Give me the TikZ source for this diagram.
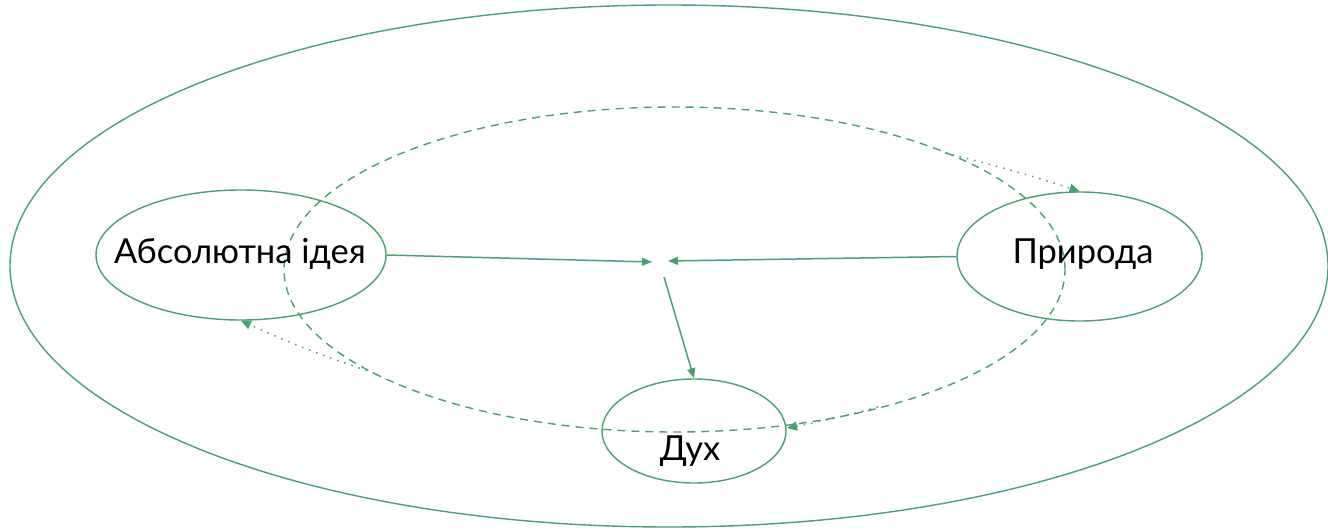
\documentclass[tikz,border=0pt]{standalone}
\usepackage{fontspec}
\setmainfont{Lato}
\usetikzlibrary{shapes.geometric,arrows.meta}
\definecolor{gr}{RGB}{74,160,112}
\tikzset{
  oval/.style={ellipse, draw=gr, line width=1.4pt, inner sep=0pt},
  lbl/.style={font=\fontsize{34.5}{38}\selectfont},
  arr/.style={draw=gr, line width=1.5pt, -{Triangle[length=10pt,width=8pt]}},
  dotarr/.style={draw=gr, line width=1.5pt, dash pattern=on 1.5pt off 6pt, -{Triangle[length=10pt,width=9pt]}},
  dashov/.style={ellipse, draw=gr, line width=1.4pt, dash pattern=on 8pt off 6pt, inner sep=0pt}
}
\begin{document}
\begin{tikzpicture}[x=1pt,y=-1pt]
\useasboundingbox (0,0) rectangle (1328,530);
\node[oval, minimum width=1318pt, minimum height=522pt] (outer) at (669,266) {};
\node[dashov, minimum width=781pt, minimum height=325pt] (inner) at (674.5,269.5) {};
\node[oval, minimum width=290pt, minimum height=130pt] (abs) at (241,255) {};
\node[lbl] at (240,254) {Абсолютна ідея};
\node[oval, minimum width=245pt, minimum height=129pt] (pryr) at (1079.5,256.5) {};
\node[lbl] at (1083,254) {Природа};
\node[oval, minimum width=184pt, minimum height=104pt] (dukh) at (694,431) {};
\node[lbl] at (690,451) {Дух};
\coordinate (cl) at (652,262);
\coordinate (cr) at (668,261);
\coordinate (cb) at (664,277);
\draw[arr] (abs.east) -- (cl);
\draw[arr] (pryr.west) -- (cr);
\draw[arr] (cb) -- (dukh.north);
\coordinate (d1) at (374,373);
\coordinate (d2) at (945,153);
\coordinate (d3) at (878,407);
\coordinate (e3) at (787,428);
\draw[dotarr] (d1) to[bend left=3] (abs.south);
\draw[dotarr] (d2) to[bend left=2] (pryr.north);
\draw[dotarr] (d3) to[bend left=2] (e3);
\end{tikzpicture}
\end{document}
